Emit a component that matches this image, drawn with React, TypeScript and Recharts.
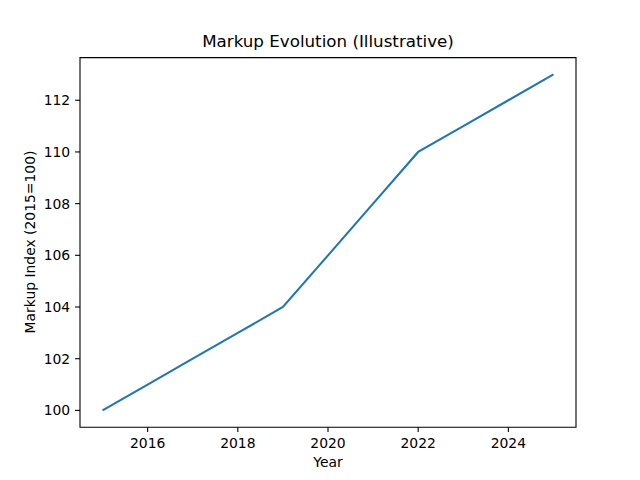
import { LineChart, Line, XAxis, YAxis, ReferenceArea } from "recharts";

const years = [2015, 2016, 2017, 2018, 2019, 2020, 2021, 2022, 2023, 2024, 2025];
const markupIndex = [100, 101, 102, 103, 104, 106, 108, 110, 111, 112, 113];
const xTicks = [2016, 2018, 2020, 2022, 2024];
const yTicks = [100, 102, 104, 106, 108, 110, 112];

const X_DOMAIN: [number, number] = [2014.5, 2025.5];
const Y_DOMAIN: [number, number] = [99.35, 113.65];

const FONT = "'DejaVu Sans', sans-serif";
const tickStyle = { fill: "#000", fontSize: 13.9, fontFamily: FONT };

export default function App() {
  const rows = years.map((year, i) => ({ year, markup: markupIndex[i] }));
  return (
    <div style={{ position: "absolute", left: 0, top: 0, width: 640, height: 480, background: "#fff", fontFamily: FONT }}>
      <LineChart width={640} height={480} data={rows} margin={{ top: 57.6, right: 64, bottom: 22.8, left: 30 }}>
        <XAxis
          dataKey="year"
          type="number"
          domain={X_DOMAIN}
          ticks={xTicks}
          allowDataOverflow
          height={30}
          axisLine={false}
          tickLine={{ stroke: "#000", strokeWidth: 1.1 }}
          tickSize={4.9}
          tickMargin={6}
          tick={tickStyle}
        />
        <YAxis
          type="number"
          domain={Y_DOMAIN}
          ticks={yTicks}
          allowDataOverflow
          width={50}
          axisLine={false}
          tickLine={{ stroke: "#000", strokeWidth: 1.1 }}
          tickSize={4.9}
          tickMargin={4.9}
          tick={tickStyle}
        />
        <ReferenceArea
          x1={X_DOMAIN[0]}
          x2={X_DOMAIN[1]}
          y1={Y_DOMAIN[0]}
          y2={Y_DOMAIN[1]}
          fill="none"
          fillOpacity={0}
          stroke="#000"
          strokeWidth={1.1}
        />
        <Line
          type="linear"
          dataKey="markup"
          stroke="#1f77b4"
          strokeWidth={2.1}
          dot={false}
          isAnimationActive={false}
        />
      </LineChart>
      <div style={{ position: "absolute", left: 80, width: 496, top: 31, textAlign: "center", fontSize: 16.7, color: "#000" }}>
        Markup Evolution (Illustrative)
      </div>
      <div style={{ position: "absolute", left: 80, width: 496, top: 454, textAlign: "center", fontSize: 13.9, color: "#000" }}>
        Year
      </div>
      <div
        style={{
          position: "absolute",
          left: 30 - 100,
          top: 242.4 - 9,
          width: 200,
          height: 18,
          lineHeight: "18px",
          textAlign: "center",
          fontSize: 13.9,
          color: "#000",
          transform: "rotate(-90deg)",
        }}
      >
        Markup Index (2015=100)
      </div>
    </div>
  );
}
